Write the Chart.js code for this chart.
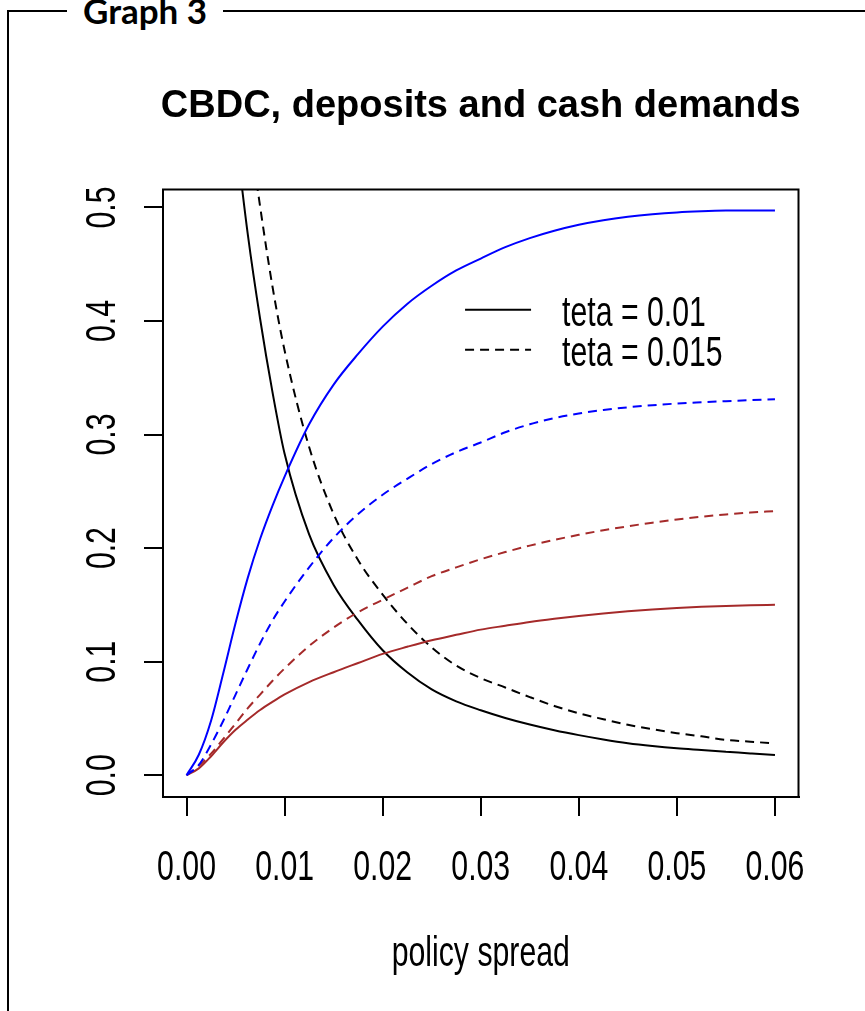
<!DOCTYPE html>
<html lang="en">
<head>
    <meta charset="UTF-8"/>
    <title>CBDC, deposits and cash demands</title>
    <script src="https://cdn.jsdelivr.net/npm/chart.js"></script>
    <style>
        html, body {
            margin: 0;
            padding: 0;
            background: #fff;
            width: 865px;
            height: 1011px;
            overflow: hidden;
        }

        .frame {
            position: absolute;
            left: 7px;
            top: 10px;
            width: 860px;
            height: 1010px;
            border-left: 2px solid #000;
            border-top: 2px solid #000;
        }

        .frame-label {
            position: absolute;
            left: 58px;
            top: -22px;
            padding: 0 16px;
            background: #fff;
            font-family: Lato, 'Open Sans', sans-serif;
            font-weight: bold;
            font-size: 35px;
            line-height: 40px;
            color: #000;
        }

        .chart-wrap {
            position: absolute;
            left: 0;
            top: 0;
            width: 865px;
            height: 1011px;
        }
    </style>
</head>
<body>
<div class="frame"><span class="frame-label">Graph 3</span></div>
<div class="chart-wrap">
    <canvas id="demandChart"></canvas>
</div>

<script>
    // policy spread grid (finer near zero where the curves bend hardest)
    const spread = [0, 0.00125, 0.0025, 0.00375, 0.005, 0.00625, 0.0075, 0.00875, 0.01,
        0.0125, 0.015, 0.0175, 0.02, 0.0225, 0.025, 0.0275, 0.03, 0.0325, 0.035, 0.0375,
        0.04, 0.0425, 0.045, 0.0475, 0.05, 0.0525, 0.055, 0.0575, 0.06];

    // CBDC demand (blue)
    const cbdcTeta01 = [0, 0.018, 0.048, 0.090, 0.134, 0.174, 0.208, 0.237, 0.263,
        0.309, 0.344, 0.371, 0.395, 0.415, 0.431, 0.4445, 0.455, 0.465, 0.473, 0.4795,
        0.4848, 0.4888, 0.4918, 0.494, 0.4956, 0.4966, 0.4972, 0.4973, 0.4973];
    const cbdcTeta015 = [0, 0.009, 0.027, 0.048, 0.071, 0.094, 0.116, 0.136, 0.153,
        0.183, 0.209, 0.230, 0.247, 0.261, 0.274, 0.2845, 0.293, 0.302, 0.309, 0.3145,
        0.3185, 0.3216, 0.324, 0.3258, 0.3273, 0.3284, 0.3294, 0.3303, 0.331];

    // deposits demand (brown)
    const depTeta01 = [0, 0.006, 0.0167, 0.029, 0.040, 0.049, 0.0574, 0.0645, 0.0711,
        0.082, 0.0907, 0.0988, 0.1068, 0.1131, 0.1189, 0.1236, 0.1282, 0.1316, 0.1349, 0.1377,
        0.1402, 0.1424, 0.1443, 0.1459, 0.1472, 0.1483, 0.1491, 0.1497, 0.150];
    const depTeta015 = [0, 0.008, 0.019, 0.032, 0.0455, 0.059, 0.071, 0.083, 0.094,
        0.1138, 0.130, 0.1436, 0.1545, 0.165, 0.1753, 0.183, 0.1902, 0.1965, 0.2022, 0.2072,
        0.2117, 0.2157, 0.2192, 0.2224, 0.2252, 0.2276, 0.2296, 0.2313, 0.2326];

    // cash demand (black), runs off the top of the panel at small spreads
    const cashTeta01 = [null, null, null, null, 0.565, 0.476, 0.402, 0.338, 0.283,
        0.212, 0.1676, 0.1363, 0.110, 0.0906, 0.0755, 0.065, 0.0572, 0.0504, 0.0446, 0.0396,
        0.0353, 0.0315, 0.0282, 0.0257, 0.0237, 0.0222, 0.0207, 0.0192, 0.0177];
    const cashTeta015 = [null, null, null, null, 0.680, 0.580, 0.501, 0.431, 0.374,
        0.289, 0.230, 0.1893, 0.159, 0.1335, 0.1125, 0.0965, 0.0855, 0.0772, 0.0688, 0.061,
        0.0545, 0.0493, 0.0444, 0.0405, 0.037, 0.0342, 0.0311, 0.0295, 0.028];

    const xTicks = [0, 0.01, 0.02, 0.03, 0.04, 0.05, 0.06];
    const yTicks = [0, 0.1, 0.2, 0.3, 0.4, 0.5];

    const legendLabels = ['teta = 0.01', 'teta = 0.015'];

    const BLUE = '#0000ff';
    const BROWN = '#a52a2a';
    const BLACK = '#000000';
    const DASH = [9, 6];
    const SANS = "'Liberation Sans', Arial, sans-serif";
    const LABEL_FONT = '42px ' + SANS;
    const SQUEEZE = 0.72; // R device text is narrow

    const toPoints = ys => spread.map((x, i) => ({x: x, y: ys[i]}));

    function series(ys, color, dashed) {
        return {
            data: toPoints(ys),
            borderColor: color,
            borderWidth: 2,
            borderDash: dashed ? DASH : [],
            pointRadius: 0,
            fill: false,
            cubicInterpolationMode: 'monotone',
            spanGaps: false,
            clip: 0
        };
    }

    function narrowText(ctx, text, x, y, opts) {
        ctx.save();
        ctx.translate(x, y);
        if (opts.rotate) ctx.rotate(opts.rotate);
        ctx.scale(opts.squeeze || SQUEEZE, 1);
        ctx.font = opts.font || LABEL_FONT;
        ctx.textAlign = opts.align || 'center';
        ctx.textBaseline = 'alphabetic';
        ctx.fillStyle = '#000';
        ctx.fillText(text, 0, 0);
        ctx.restore();
    }

    // box, tick labels, titles and the lty legend
    const decorations = {
        id: 'decorations',
        afterDraw(chart) {
            const {ctx, chartArea: a, scales} = chart;
            ctx.save();
            ctx.strokeStyle = '#000';
            ctx.lineWidth = 2;
            ctx.strokeRect(a.left, a.top, a.right - a.left, a.bottom - a.top);
            ctx.restore();

            scales.x.ticks.forEach(t => {
                narrowText(ctx, t.value.toFixed(2), scales.x.getPixelForValue(t.value), 880, {});
            });
            scales.y.ticks.forEach(t => {
                narrowText(ctx, t.value.toFixed(1), 115, scales.y.getPixelForValue(t.value),
                    {rotate: -Math.PI / 2});
            });

            const cx = (a.left + a.right) / 2;
            narrowText(ctx, 'policy spread', cx, 966, {});
            narrowText(ctx, 'CBDC, deposits and cash demands', cx, 117,
                {font: 'bold 38px ' + SANS, squeeze: 1});

            // legend anchored in data coordinates
            const lx = scales.x.getPixelForValue(0.0284);
            const ly = scales.y.getPixelForValue(0.41);
            ctx.save();
            ctx.strokeStyle = '#000';
            ctx.lineWidth = 2;
            legendLabels.forEach((txt, i) => {
                const y = ly + i * 40;
                ctx.setLineDash(i === 0 ? [] : DASH);
                ctx.beginPath();
                ctx.moveTo(lx, y);
                ctx.lineTo(lx + 66, y);
                ctx.stroke();
                narrowText(ctx, txt, lx + 97, y + 16, {align: 'left'});
            });
            ctx.restore();
        }
    };

    const axisGrid = {drawOnChartArea: false, drawTicks: true, tickLength: 19, color: '#000', lineWidth: 2};

    new Chart(document.getElementById('demandChart'), {
        type: 'line',
        data: {
            datasets: [
                series(cbdcTeta01, BLUE, false),
                series(cbdcTeta015, BLUE, true),
                series(depTeta01, BROWN, false),
                series(depTeta015, BROWN, true),
                series(cashTeta01, BLACK, false),
                series(cashTeta015, BLACK, true)
            ]
        },
        options: {
            responsive: true,
            maintainAspectRatio: false,
            animation: false,
            devicePixelRatio: 1,
            layout: {padding: {top: 189.5, right: 66.5, bottom: 0, left: 0}},
            plugins: {
                legend: {display: false},
                title: {display: false},
                tooltip: {enabled: false}
            },
            scales: {
                x: {
                    type: 'linear',
                    min: -0.0024,
                    max: 0.0624,
                    afterFit: s => { s.height = 214; },
                    afterBuildTicks: s => { s.ticks = xTicks.map(v => ({value: v})); },
                    grid: axisGrid,
                    border: {display: true, color: '#000', width: 2},
                    ticks: {display: false}
                },
                y: {
                    type: 'linear',
                    min: -0.0192,
                    max: 0.5158,
                    afterFit: s => { s.width = 163; },
                    afterBuildTicks: s => { s.ticks = yTicks.map(v => ({value: v})); },
                    grid: axisGrid,
                    border: {display: true, color: '#000', width: 2},
                    ticks: {display: false}
                }
            }
        },
        plugins: [decorations]
    });
</script>
</body>
</html>
